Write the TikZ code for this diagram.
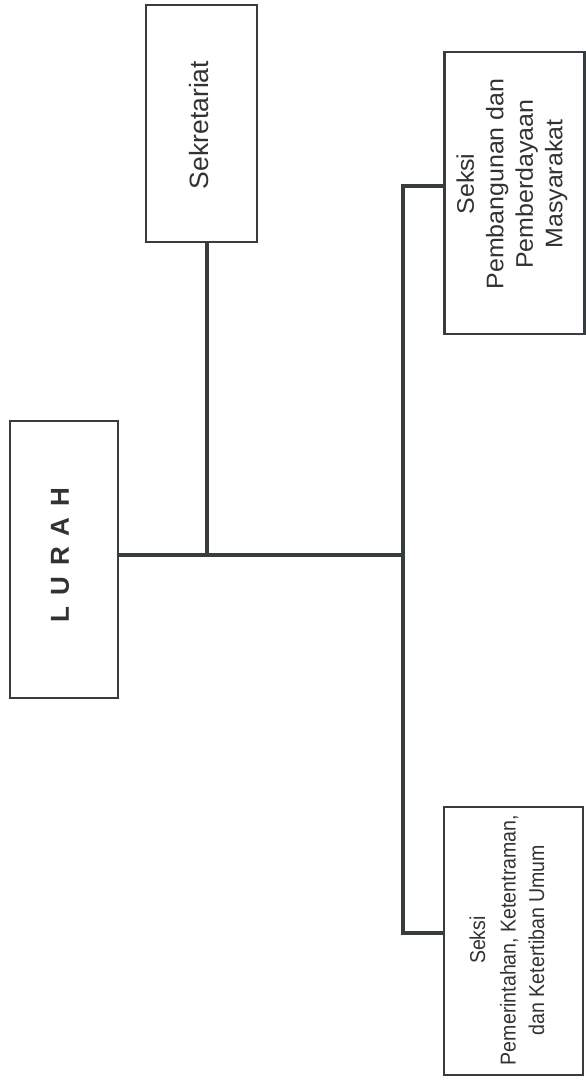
\documentclass[tikz,border=0pt]{standalone}
\usepackage{fontspec}
\setmainfont{Liberation Sans}
\newfontfamily\narrowfont{Liberation Sans}[FakeStretch=0.91]
\newfontfamily\wideishfont{Liberation Sans}[FakeStretch=1.04]
\definecolor{ink}{RGB}{55,60,63}
\definecolor{txt}{RGB}{48,50,52}
\begin{document}
\begin{tikzpicture}[x=1pt,y=-1pt,
  box/.style={draw=ink, line width=2.2pt, fill=white, inner sep=0pt},
  label/.style={rotate=90, text=txt, align=center, inner sep=0pt},
  link/.style={draw=ink, line width=3.2pt}]
\useasboundingbox (0,0) rectangle (586,1080);
% boxes
\node[box, minimum width=108pt, minimum height=277pt] (lurah) at (64,559.5) {};
\node[box, minimum width=111pt, minimum height=237pt] (sek) at (201.5,123.5) {};
\node[box, minimum width=140pt, minimum height=282pt] (pemb) at (514.5,193) {};
\node[box, minimum width=139pt, minimum height=268pt] (pem) at (513.5,941) {};
% texts
\node[label, font=\fontsize{26}{30}\selectfont\bfseries] (lurahtxt) at (60,555)
  {L\hspace{0.42em}U\hspace{0.42em}R\hspace{0.42em}A\hspace{0.42em}H};
\node[label, font=\fontsize{26.5}{30}\selectfont] (sektxt) at (199,125) {Sekretariat};
\node[label, font=\fontsize{24}{29.5}\selectfont\wideishfont] (pembtxt) at (512,184)
  {Seksi\\Pembangunan dan\\Pemberdayaan\\Masyarakat};
\node[label, font=\fontsize{21.5}{28.5}\selectfont\narrowfont] (pemtxt) at (507,940)
  {Seksi\\[2pt]Pemerintahan, Ketentraman,\\dan Ketertiban Umum};
% connectors
\coordinate (j1) at (207,555);
\coordinate (j2) at (403,555);
\coordinate (t) at (403,186);
\coordinate (b) at (403,933);
\draw[link] (lurah.east |- j1) -- (j2);
\draw[link] (j1 |- sek.south) -- (j1);
\draw[link] (pemb.west |- t) -- (t) -- (b) -- (pem.west |- b);
\end{tikzpicture}
\end{document}
